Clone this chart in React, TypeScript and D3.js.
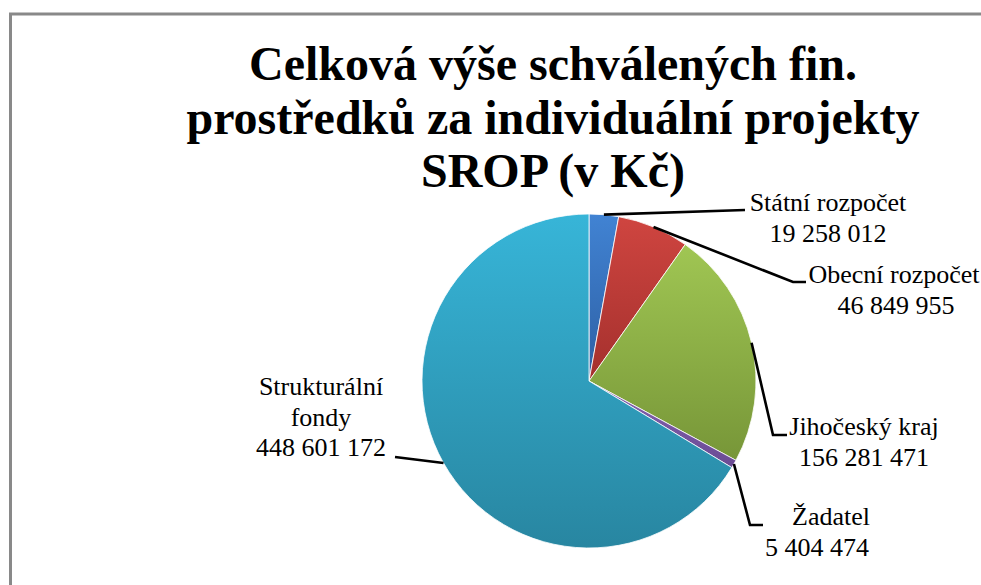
import React from "react";
import * as d3 from "d3";

const categories = ["Státní rozpočet", "Obecní rozpočet", "Jihočeský kraj", "Žadatel", "Strukturální fondy"];
const values = [19258012, 46849955, 156281471, 5404474, 448601172];
const valueLabels = ["19 258 012", "46 849 955", "156 281 471", "5 404 474", "448 601 172"];
const titleLines = ["Celková výše schválených fin.", "prostředků za individuální projekty", "SROP (v Kč)"];
const colorsTop = ["#4183d3", "#cf4540", "#a0c653", "#8563b0", "#37b5d8"];
const colorsBottom = ["#2d5fa3", "#a4302d", "#779638", "#6a4b94", "#2886a1"];

const labelLayout = [
  { lines: [[categories[0], 828], [valueLabels[0], 828]], y0: 211, path: [[745, 210]] },
  { lines: [[categories[1], 894], [valueLabels[1], 896]], y0: 283, path: [[793, 282], [806, 282]] },
  { lines: [[categories[2], 864], [valueLabels[2], 864]], y0: 435, path: [[773, 435], [787, 435]] },
  { lines: [[categories[3], 831], [valueLabels[3], 817]], y0: 525, path: [[750, 525], [763, 525]] },
  { lines: [["Strukturální", 321], ["fondy", 321], [valueLabels[4], 321]], y0: 395, path: [[395, 457]] },
];

export default function App() {
  const W = 981, H = 585;
  const cx = 589, cy = 381, r = 167;
  const pie = d3.pie<number>().sort(null).value((d) => d)(values);
  const arc = d3.arc<d3.PieArcDatum<number>>().innerRadius(0).outerRadius(r);
  const serif = '"Liberation Serif", "Times New Roman", serif';

  return (
    <svg width={W} height={H} style={{ position: "absolute", left: 0, top: 0 }}>
      <defs>
        {categories.map((c, i) => (
          <linearGradient key={c} id={`g${i}`} x1="0" y1="0" x2="0" y2="1">
            <stop offset="0%" stopColor={colorsTop[i]} />
            <stop offset="100%" stopColor={colorsBottom[i]} />
          </linearGradient>
        ))}
      </defs>
      <rect x={0} y={0} width={W} height={H} fill="#fff" />
      <rect x={10.5} y={14} width={1100} height={700} fill="none" stroke="#898989" strokeWidth={3} />
      <g style={{ fontFamily: serif, fontWeight: "bold", fontSize: "48px" }} textAnchor="middle" fill="#000">
        {titleLines.map((t, i) => (
          <text key={i} x={553} y={80 + i * 53.5}>{t}</text>
        ))}
      </g>
      <g transform={`translate(${cx},${cy})`}>
        {pie.map((p, i) => (
          <path key={i} d={arc(p) || ""} fill={`url(#g${i})`} stroke="#fff" strokeWidth={0.8} />
        ))}
      </g>
      <g stroke="#000" strokeWidth={2.6} fill="none">
        {pie.map((p, i) => {
          const a = (p.startAngle + p.endAngle) / 2;
          const sx = cx + r * Math.sin(a);
          const sy = cy - r * Math.cos(a);
          const pts = [[sx, sy], ...labelLayout[i].path];
          return <polyline key={i} points={pts.map((q) => q.join(",")).join(" ")} />;
        })}
      </g>
      <g style={{ fontFamily: serif, fontSize: "26px" }} textAnchor="middle" fill="#000">
        {labelLayout.map((l, i) =>
          l.lines.map((ln, j) => (
            <text key={`${i}-${j}`} x={ln[1] as number} y={l.y0 + j * 30.5}>{ln[0] as string}</text>
          ))
        )}
      </g>
    </svg>
  );
}
